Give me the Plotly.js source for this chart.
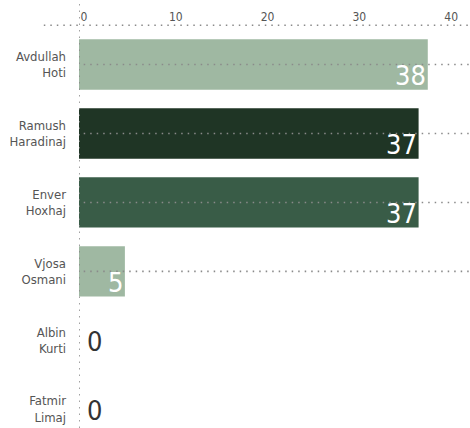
<!DOCTYPE html>
<html><head><meta charset="utf-8">
<script src="https://cdn.plot.ly/plotly-3.0.1.min.js"></script>
<style>html,body{margin:0;padding:0;background:#fff}#c{width:470px;height:428px}</style>
</head><body><div id="c"></div>
<script>
var candidates = ["Avdullah<br>Hoti", "Ramush<br>Haradinaj", "Enver<br>Hoxhaj", "Vjosa<br>Osmani", "Albin<br>Kurti", "Fatmir<br>Limaj"];
var votes = [38, 37, 37, 5, 0, 0];
var barColors = ["#9fb8a2", "#1f3525", "#395c47", "#9fb8a2", "#9fb8a2", "#9fb8a2"];
var tickVals = [0, 10, 20, 30, 40];

var FONT = "DejaVu Sans Condensed, Roboto, sans-serif";
var DOT = {color: "#8a8a8a", width: 1.6, dash: "1.5px,5px"};

var trace = {
  type: "bar", orientation: "h",
  y: candidates, x: votes,
  marker: {color: barColors},
  cliponaxis: false,
  hoverinfo: "none"
};

var annotations = candidates.map(function(c, i){
  var v = votes[i];
  if (v > 0) {
    return {x: v, y: c, xref: "x", yref: "y", text: String(v), showarrow: false,
      xanchor: "right", yanchor: "middle", xshift: 0, yshift: -11,
      font: {family: FONT, size: 27, color: "#ffffff"}};
  }
  return {x: v, y: c, xref: "x", yref: "y", text: String(v), showarrow: false,
    xanchor: "left", yanchor: "middle", xshift: 6, yshift: -1,
    font: {family: FONT, size: 27, color: "#333333"}};
});

var shapes = [];
candidates.forEach(function(c, i){
  if (votes[i] > 0) {
    shapes.push({type: "line", xref: "paper", yref: "y", x0: 0.012, x1: 1, y0: c, y1: c,
      line: DOT, layer: "above"});
  }
});
shapes.push({type: "line", xref: "paper", yref: "paper", x0: -0.09, x1: 1, y0: 1.012, y1: 1.012, line: DOT});
shapes.push({type: "line", xref: "x", yref: "paper", x0: 0, x1: 0, y0: 0, y1: 1.08, line: DOT, layer: "above"});

var layout = {
  width: 470, height: 428,
  margin: {l: 79, r: 0, t: 30, b: 0},
  paper_bgcolor: "#fff", plot_bgcolor: "#fff",
  showlegend: false,
  bargap: 0.27,
  font: {family: FONT, color: "#444"},
  xaxis: {
    side: "top", range: [0, 42.6], tickvals: tickVals,
    showgrid: false, zeroline: false, showline: false, ticks: "",
    tickfont: {family: FONT, size: 12, color: "#555"},
    ticklabelshift: 5, ticklabelstandoff: 6, fixedrange: true
  },
  yaxis: {
    type: "category", range: [5.27, -0.5],
    showgrid: false, zeroline: false, showline: false, ticks: "",
    tickfont: {family: FONT, size: 13, color: "#555"},
    ticklabelstandoff: 12, fixedrange: true
  },
  annotations: annotations,
  shapes: shapes
};

Plotly.newPlot("c", [trace], layout, {displayModeBar: false, staticPlot: true});
</script></body></html>
